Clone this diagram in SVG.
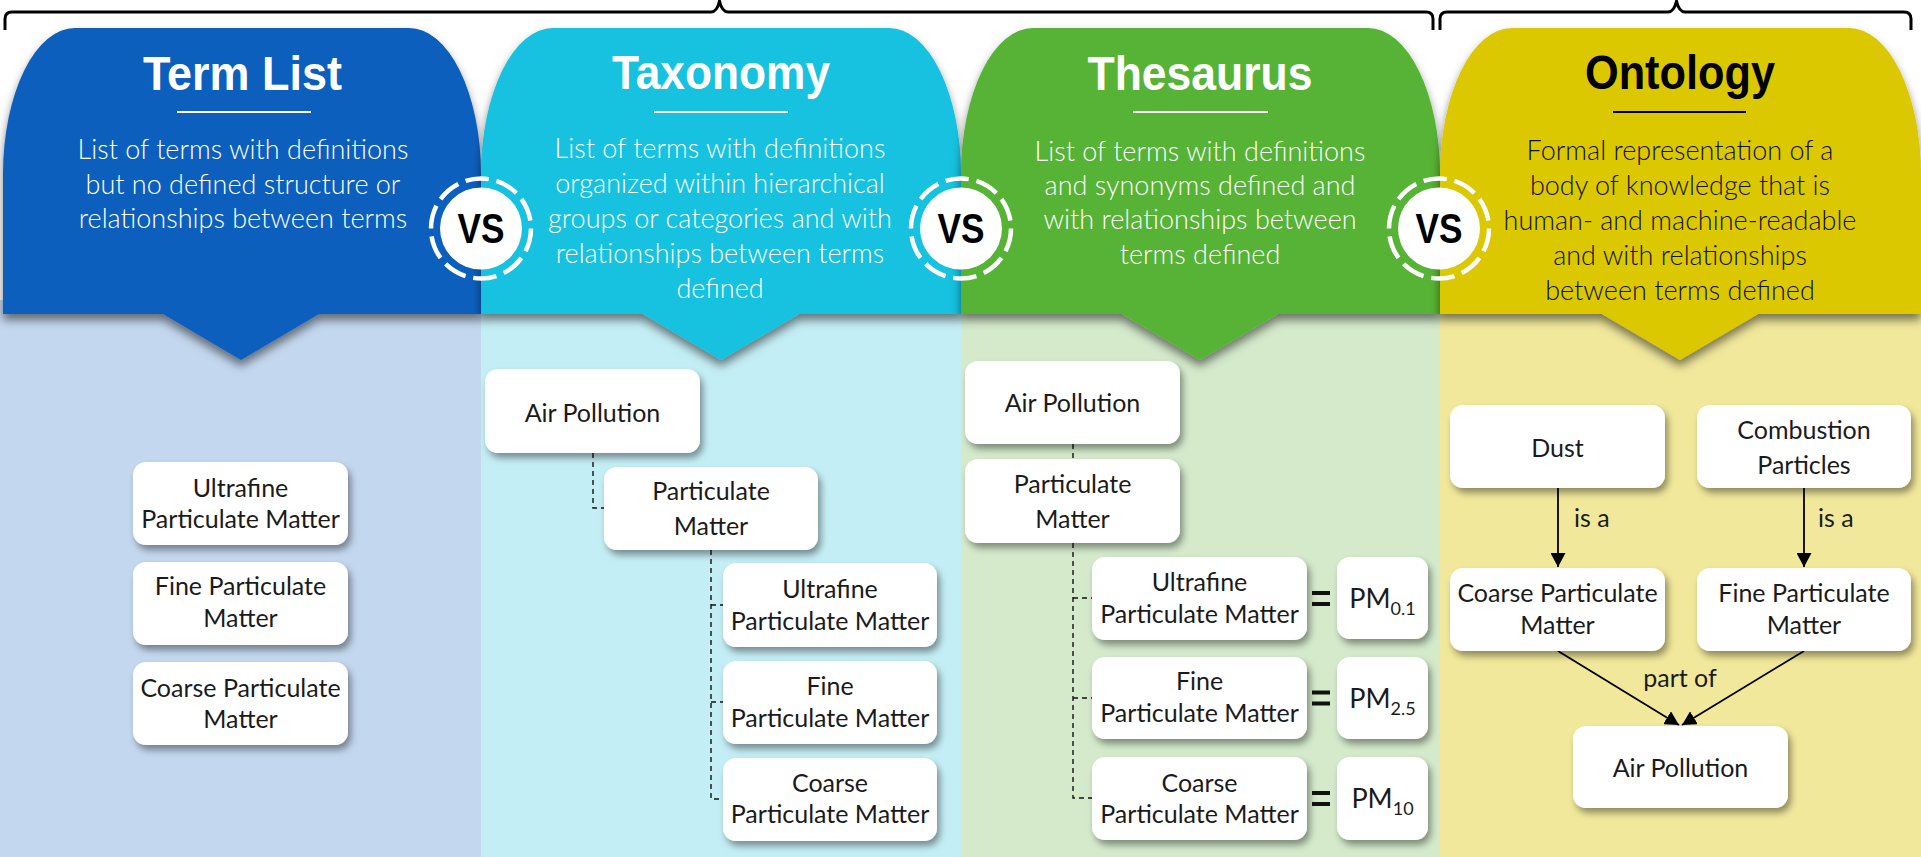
<svg xmlns="http://www.w3.org/2000/svg" width="1921" height="857" viewBox="0 0 1921 857">
  <style>
    .title{font-family:"Liberation Sans",Arial,sans-serif;font-weight:bold;font-size:49px;text-anchor:middle}
    .desc{font-family:Lato,"Open Sans",sans-serif;font-weight:300;font-size:27px;text-anchor:middle}
    .rule{stroke-width:2}
    .node rect{fill:#fff;filter:url(#nodeShadow)}
    .node text,.lbl{font-family:Lato,"Open Sans",sans-serif;font-size:25px;fill:#1b1b1b;text-anchor:middle}
    .node text.pm{font-size:27px}
    .lbl.start{text-anchor:start}
    .dash{fill:none;stroke:#111;stroke-width:1.4;stroke-dasharray:5 4}
    .arrow{fill:none;stroke:#000;stroke-width:1.8;marker-end:url(#arrowHead)}
    .brace{fill:none;stroke:#000;stroke-width:3;stroke-linejoin:round}
    .vs-ring{fill:none;stroke:#fff;stroke-width:4.5;stroke-dasharray:7.5 2.5}
    .vs-text{font-family:"Liberation Sans",Arial,sans-serif;font-weight:bold;font-size:42px;text-anchor:middle;fill:#000}
    .eq{fill:#111}
  </style>
  <defs>
    <filter id="headShadow" x="-10%" y="-10%" width="120%" height="130%">
      <feDropShadow dx="0" dy="6" stdDeviation="5" flood-color="#000" flood-opacity="0.5"/>
    </filter>
    <filter id="nodeShadow" x="-15%" y="-20%" width="135%" height="150%">
      <feDropShadow dx="3" dy="5" stdDeviation="3.5" flood-color="#000" flood-opacity="0.4"/>
    </filter>
    <marker id="arrowHead" viewBox="0 0 14 15" refX="14" refY="7.5" markerWidth="14" markerHeight="15" markerUnits="userSpaceOnUse" orient="auto">
      <path d="M0,0 L14,7.5 L0,15 Z" fill="#000"/>
    </marker>
  </defs>

  <rect width="1921" height="857" fill="#fff"/>

  <!-- column bodies -->
  <g id="bodies">
    <rect x="0" y="300" width="481" height="557" fill="#C3D7EE"/>
    <rect x="481" y="300" width="480" height="557" fill="#C4EEF5"/>
    <rect x="961" y="300" width="479" height="557" fill="#D4EACB"/>
    <rect x="1440" y="300" width="481" height="557" fill="#F1E89B"/>
  </g>

  <!-- braces over the columns -->
  <g id="braces">
    <path class="brace" d="M5,30 L5,19 Q5,12 12,12 L711,12 Q717,12 719.5,1 Q722,12 728,12 L1426,12 Q1433,12 1433,19 L1433,30"/>
    <path class="brace" d="M1440,30 L1440,19 Q1440,12 1447,12 L1668,12 Q1674,12 1676.5,1 Q1679,12 1685,12 L1904,12 Q1911,12 1911,19 L1911,30"/>
  </g>

  <!-- headers -->
  <g id="header-termlist">
    <path fill="#0A5EBE" filter="url(#headShadow)" d="M3,314 L3,174 A72,146 0 0 1 75,28 L409,28 A72,146 0 0 1 481,174 L481,314 L319,314 L241,360 L163,314 Z"/>
    <text class="title" x="242.5" y="90" fill="#fff" textLength="199" lengthAdjust="spacingAndGlyphs">Term List</text>
    <line class="rule" x1="177" y1="112" x2="311" y2="112" stroke="#fff"/>
    <text class="desc" fill="#fff"><tspan x="243" y="159">List of terms with definitions</tspan><tspan x="243" y="194">but no defined structure or</tspan><tspan x="243" y="228">relationships between terms</tspan></text>
  </g>
  <g id="header-taxonomy">
    <path fill="#14C2E0" filter="url(#headShadow)" d="M481,314 L481,174 A72,146 0 0 1 553,28 L889,28 A72,146 0 0 1 961,174 L961,314 L799,314 L721,360 L643,314 Z"/>
    <text class="title" x="721" y="89" fill="#fff" textLength="218" lengthAdjust="spacingAndGlyphs">Taxonomy</text>
    <line class="rule" x1="654" y1="112" x2="788" y2="112" stroke="#fff"/>
    <text class="desc" fill="#fff"><tspan x="720" y="158">List of terms with definitions</tspan><tspan x="720" y="193">organized within hierarchical</tspan><tspan x="720" y="228">groups or categories and with</tspan><tspan x="720" y="263">relationships between terms</tspan><tspan x="720" y="298">defined</tspan></text>
  </g>
  <g id="header-thesaurus">
    <path fill="#56B336" filter="url(#headShadow)" d="M961,314 L961,174 A72,146 0 0 1 1033,28 L1368,28 A72,146 0 0 1 1440,174 L1440,314 L1278,314 L1200,360 L1122,314 Z"/>
    <text class="title" x="1200" y="90" fill="#fff" textLength="225" lengthAdjust="spacingAndGlyphs">Thesaurus</text>
    <line class="rule" x1="1133" y1="112" x2="1268" y2="112" stroke="#fff"/>
    <text class="desc" fill="#fff"><tspan x="1200" y="161">List of terms with definitions</tspan><tspan x="1200" y="195">and synonyms defined and</tspan><tspan x="1200" y="229">with relationships between</tspan><tspan x="1200" y="264">terms defined</tspan></text>
  </g>
  <g id="header-ontology">
    <path fill="#DCC804" filter="url(#headShadow)" d="M1440,314 L1440,174 A72,146 0 0 1 1512,28 L1849,28 A72,146 0 0 1 1921,174 L1921,314 L1758,314 L1680,360 L1602,314 Z"/>
    <text class="title" x="1680" y="89" fill="#000" textLength="190" lengthAdjust="spacingAndGlyphs">Ontology</text>
    <line class="rule" x1="1613" y1="112" x2="1746" y2="112" stroke="#000"/>
    <text class="desc" fill="#111"><tspan x="1680" y="160">Formal representation of a</tspan><tspan x="1680" y="195">body of knowledge that is</tspan><tspan x="1680" y="230">human- and machine-readable</tspan><tspan x="1680" y="265">and with relationships</tspan><tspan x="1680" y="300">between terms defined</tspan></text>
  </g>

  <!-- VS badges on the column seams -->
  <g id="vs-1">
    <circle cx="481" cy="228.5" r="41" fill="#fff"/>
    <circle class="vs-ring" cx="481" cy="228.5" r="50" pathLength="100"/>
    <text class="vs-text" x="481" y="243" textLength="47" lengthAdjust="spacingAndGlyphs">VS</text>
  </g>
  <g id="vs-2">
    <circle cx="961" cy="228.5" r="41" fill="#fff"/>
    <circle class="vs-ring" cx="961" cy="228.5" r="50" pathLength="100"/>
    <text class="vs-text" x="961" y="243" textLength="47" lengthAdjust="spacingAndGlyphs">VS</text>
  </g>
  <g id="vs-3">
    <circle cx="1439" cy="228.5" r="41" fill="#fff"/>
    <circle class="vs-ring" cx="1439" cy="228.5" r="50" pathLength="100"/>
    <text class="vs-text" x="1439" y="243" textLength="47" lengthAdjust="spacingAndGlyphs">VS</text>
  </g>

  <!-- connectors -->
  <g id="connectors">
    <path class="dash" d="M593,453 V508 H604"/>
    <path class="dash" d="M711,550 V799 H723 M711,605 H723 M711,702 H723"/>
    <path class="dash" d="M1073,444 V459"/>
    <path class="dash" d="M1073,543 V798 H1092 M1073,598 H1092 M1073,698 H1092"/>
    <line class="arrow" x1="1558" y1="488" x2="1558" y2="567"/>
    <line class="arrow" x1="1804" y1="488" x2="1804" y2="567"/>
    <line class="arrow" x1="1558" y1="651" x2="1679" y2="725"/>
    <line class="arrow" x1="1804" y1="651" x2="1682" y2="725"/>
    <text class="lbl start" x="1574" y="527">is a</text>
    <text class="lbl start" x="1818" y="527">is a</text>
    <text class="lbl" x="1680" y="687">part of</text>
    <rect class="eq" x="1312" y="591" width="18" height="4"/>
    <rect class="eq" x="1312" y="602" width="18" height="4"/>
    <rect class="eq" x="1312" y="690.5" width="18" height="4"/>
    <rect class="eq" x="1312" y="701.5" width="18" height="4"/>
    <rect class="eq" x="1312" y="791" width="18" height="4"/>
    <rect class="eq" x="1312" y="802" width="18" height="4"/>
  </g>

  <!-- term list nodes -->
  <g id="tl-ultrafine" class="node"><rect x="133" y="462" width="215" height="83" rx="13"/><text x="240.5" y="497">Ultrafine</text><text x="240.5" y="528">Particulate Matter</text></g>
  <g id="tl-fine" class="node"><rect x="133" y="562" width="215" height="83" rx="13"/><text x="240.5" y="595">Fine Particulate</text><text x="240.5" y="627">Matter</text></g>
  <g id="tl-coarse" class="node"><rect x="133" y="662" width="215" height="83" rx="13"/><text x="240.5" y="697">Coarse Particulate</text><text x="240.5" y="728">Matter</text></g>

  <!-- taxonomy nodes -->
  <g id="tx-air" class="node"><rect x="485" y="369" width="215" height="84" rx="13"/><text x="592.5" y="422">Air Pollution</text></g>
  <g id="tx-pm" class="node"><rect x="604" y="467" width="214" height="83" rx="13"/><text x="711" y="500">Particulate</text><text x="711" y="535">Matter</text></g>
  <g id="tx-ultrafine" class="node"><rect x="723" y="563" width="214" height="84" rx="13"/><text x="830" y="598">Ultrafine</text><text x="830" y="630">Particulate Matter</text></g>
  <g id="tx-fine" class="node"><rect x="723" y="661" width="214" height="83" rx="13"/><text x="830" y="695">Fine</text><text x="830" y="727">Particulate Matter</text></g>
  <g id="tx-coarse" class="node"><rect x="723" y="758" width="214" height="83" rx="13"/><text x="830" y="792">Coarse</text><text x="830" y="823">Particulate Matter</text></g>

  <!-- thesaurus nodes -->
  <g id="th-air" class="node"><rect x="965" y="361" width="215" height="83" rx="13"/><text x="1072.5" y="412">Air Pollution</text></g>
  <g id="th-pm" class="node"><rect x="965" y="459" width="215" height="84" rx="13"/><text x="1072.5" y="493">Particulate</text><text x="1072.5" y="528">Matter</text></g>
  <g id="th-ultrafine" class="node"><rect x="1092" y="557" width="215" height="83" rx="13"/><text x="1199.5" y="591">Ultrafine</text><text x="1199.5" y="623">Particulate Matter</text></g>
  <g id="th-fine" class="node"><rect x="1092" y="657" width="215" height="82" rx="13"/><text x="1199.5" y="690">Fine</text><text x="1199.5" y="722">Particulate Matter</text></g>
  <g id="th-coarse" class="node"><rect x="1092" y="757" width="215" height="83" rx="13"/><text x="1199.5" y="792">Coarse</text><text x="1199.5" y="823">Particulate Matter</text></g>
  <g id="th-pm01" class="node"><rect x="1337" y="557" width="91" height="82" rx="13"/><text class="pm" x="1382.5" y="608">PM<tspan font-size="18" dy="7">0.1</tspan></text></g>
  <g id="th-pm25" class="node"><rect x="1337" y="657" width="91" height="82" rx="13"/><text class="pm" x="1382.5" y="708">PM<tspan font-size="18" dy="7">2.5</tspan></text></g>
  <g id="th-pm10" class="node"><rect x="1337" y="757" width="91" height="83" rx="13"/><text class="pm" x="1382.5" y="808">PM<tspan font-size="18" dy="7">10</tspan></text></g>

  <!-- ontology nodes -->
  <g id="on-dust" class="node"><rect x="1450" y="405" width="215" height="83" rx="13"/><text x="1557.5" y="457">Dust</text></g>
  <g id="on-combustion" class="node"><rect x="1697" y="405" width="214" height="83" rx="13"/><text x="1804" y="439">Combustion</text><text x="1804" y="474">Particles</text></g>
  <g id="on-coarse" class="node"><rect x="1450" y="568" width="215" height="83" rx="13"/><text x="1557.5" y="602">Coarse Particulate</text><text x="1557.5" y="634">Matter</text></g>
  <g id="on-fine" class="node"><rect x="1697" y="568" width="214" height="83" rx="13"/><text x="1804" y="602">Fine Particulate</text><text x="1804" y="634">Matter</text></g>
  <g id="on-air" class="node"><rect x="1573" y="726" width="215" height="82" rx="13"/><text x="1680.5" y="777">Air Pollution</text></g>
</svg>
